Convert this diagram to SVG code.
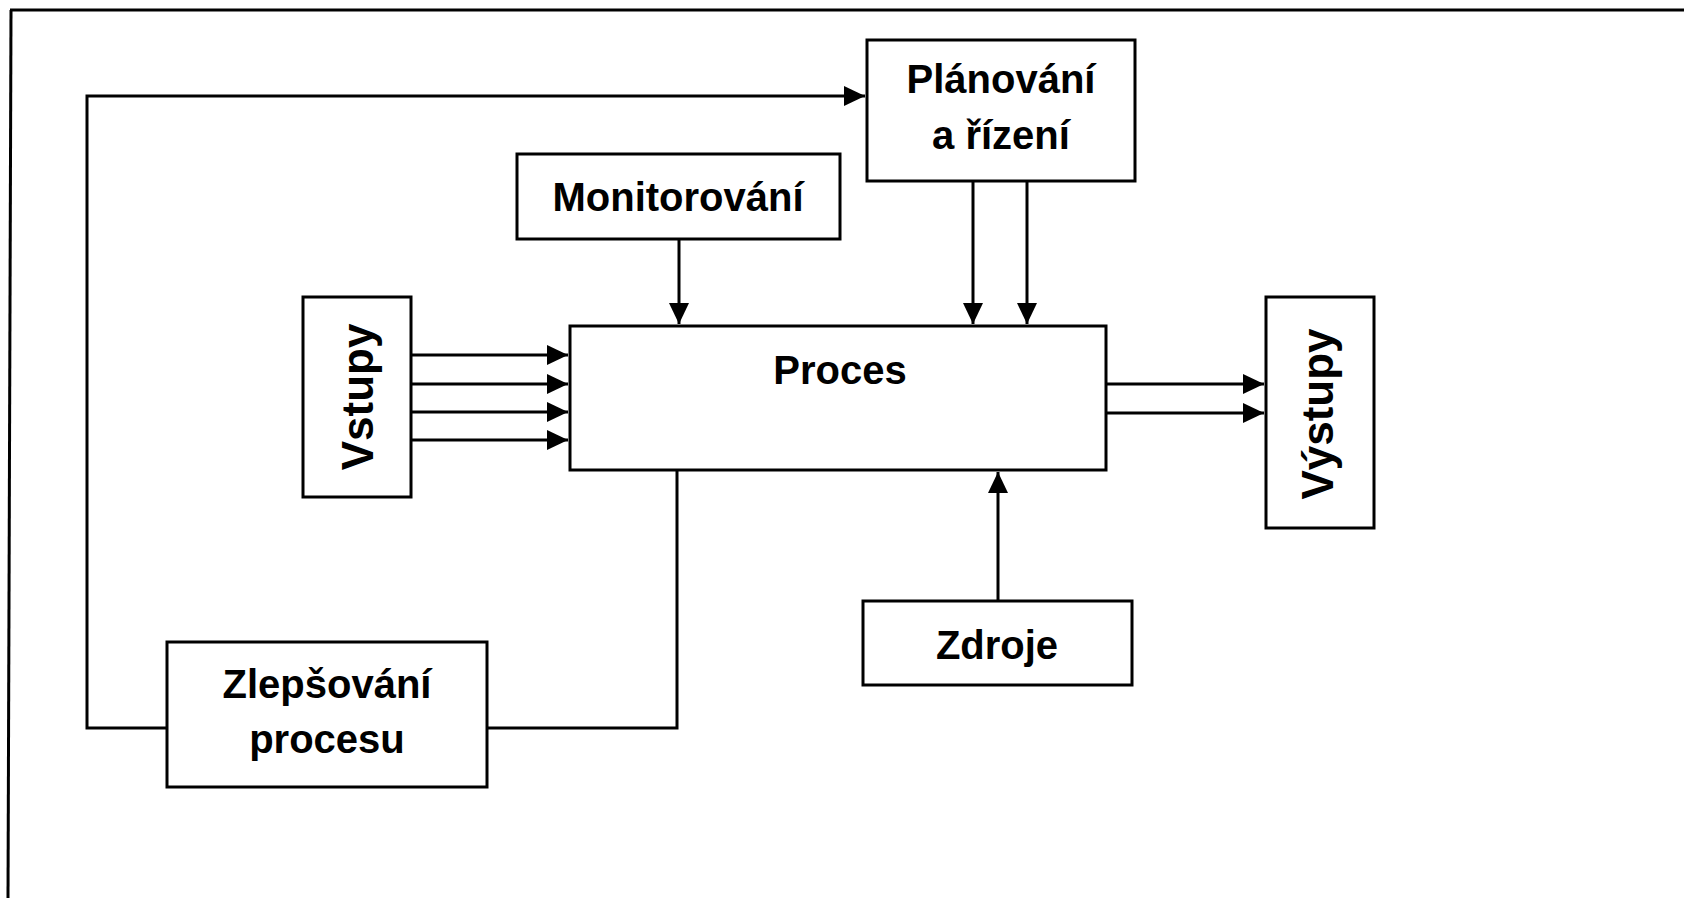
<svg xmlns="http://www.w3.org/2000/svg" width="1684" height="898" viewBox="0 0 1684 898">
<style>
.box{fill:#fff;stroke:#000;stroke-width:3}
.ln{fill:none;stroke:#000;stroke-width:3}
.t{font-family:"Liberation Sans",Arial,sans-serif;font-weight:bold;font-size:40px;fill:#000;text-anchor:middle}
.tv{font-family:"Liberation Sans",Arial,sans-serif;font-weight:bold;font-size:44px;fill:#000;text-anchor:middle}
</style>
<defs>
<marker id="ah" markerUnits="userSpaceOnUse" markerWidth="24" markerHeight="22" refX="21" refY="10" orient="auto">
<path d="M0,0 L21,10 L0,20 z" fill="#000"/>
</marker>
</defs>
<rect width="1684" height="898" fill="#fff"/>
<g id="frame">
<line x1="10" y1="10" x2="1684" y2="10" class="ln"/>
<line x1="11" y1="10" x2="8" y2="898" class="ln" stroke-width="2"/>
</g>
<g id="connectors">
<polyline class="ln" points="167,728 87,728 87,96 865,96" marker-end="url(#ah)"/>
<polyline class="ln" points="487,728 677,728 677,470"/>
<line class="ln" x1="679" y1="239" x2="679" y2="324" marker-end="url(#ah)"/>
<line class="ln" x1="973" y1="181" x2="973" y2="324" marker-end="url(#ah)"/>
<line class="ln" x1="1027" y1="181" x2="1027" y2="324" marker-end="url(#ah)"/>
<line class="ln" x1="998" y1="601" x2="998" y2="472" marker-end="url(#ah)"/>
<line class="ln" x1="411" y1="355" x2="568" y2="355" marker-end="url(#ah)"/>
<line class="ln" x1="411" y1="384" x2="568" y2="384" marker-end="url(#ah)"/>
<line class="ln" x1="411" y1="412" x2="568" y2="412" marker-end="url(#ah)"/>
<line class="ln" x1="411" y1="440" x2="568" y2="440" marker-end="url(#ah)"/>
<line class="ln" x1="1106" y1="384" x2="1264" y2="384" marker-end="url(#ah)"/>
<line class="ln" x1="1106" y1="413" x2="1264" y2="413" marker-end="url(#ah)"/>
</g>
<g id="planovani">
<rect class="box" x="867" y="40" width="268" height="141"/>
<text class="t" x="1001" y="93">Plánování</text>
<text class="t" x="1001" y="149">a řízení</text>
</g>
<g id="monitorovani">
<rect class="box" x="517" y="154" width="323" height="85"/>
<text class="t" x="678" y="211">Monitorování</text>
</g>
<g id="proces">
<rect class="box" x="570" y="326" width="536" height="144"/>
<text class="t" x="840" y="384">Proces</text>
</g>
<g id="vstupy">
<rect class="box" x="303" y="297" width="108" height="200"/>
<text class="tv" transform="translate(373,397) rotate(-90)">Vstupy</text>
</g>
<g id="vystupy">
<rect class="box" x="1266" y="297" width="108" height="231"/>
<text class="tv" transform="translate(1333,414) rotate(-90)">Výstupy</text>
</g>
<g id="zdroje">
<rect class="box" x="863" y="601" width="269" height="84"/>
<text class="t" x="997" y="659">Zdroje</text>
</g>
<g id="zlepsovani">
<rect class="box" x="167" y="642" width="320" height="145"/>
<text class="t" x="327" y="698">Zlepšování</text>
<text class="t" x="327" y="753">procesu</text>
</g>
</svg>
